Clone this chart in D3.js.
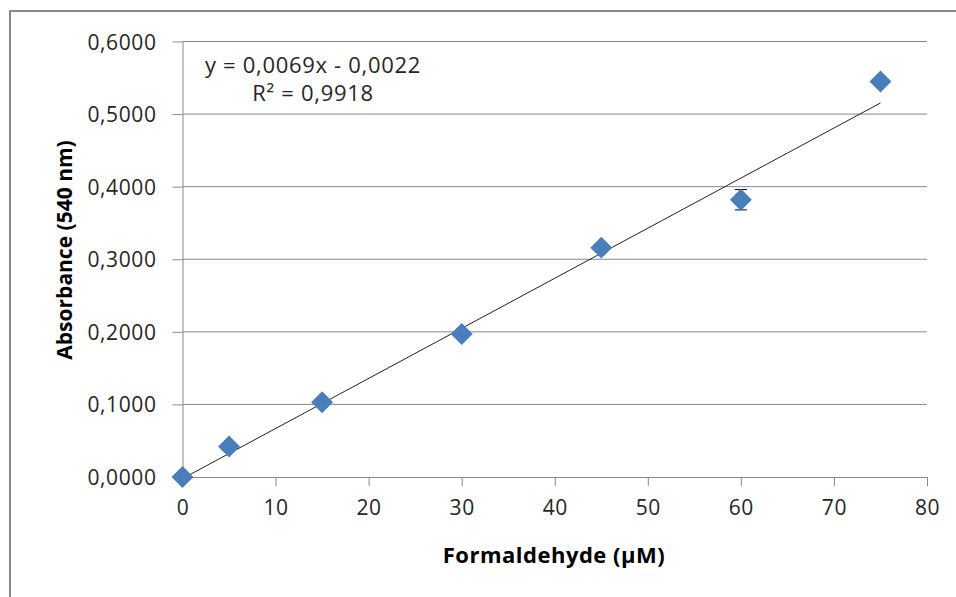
<!DOCTYPE html>
<html>
<head>
<meta charset="utf-8">
<script src="https://cdn.jsdelivr.net/npm/d3@7"></script>
<style>
  body { margin: 0; background: #fff; }
  text { font-family: "Open Sans", sans-serif; fill: #262626; }
  .tick text { font-size: 21px; letter-spacing: 0.6px; }
  .eq { font-size: 22px; letter-spacing: 0.7px; }
  .title { font-weight: bold; fill: #000; }
</style>
</head>
<body>
<script>
// data
var conc = [0, 5, 15, 30, 45, 60, 75];
var absorb = [0.000, 0.042, 0.103, 0.197, 0.316, 0.382, 0.545];
var errs = [0, 0, 0, 0, 0, 0.014, 0];
var xTicks = [0, 10, 20, 30, 40, 50, 60, 70, 80];
var yTicks = [0, 0.1, 0.2, 0.3, 0.4, 0.5, 0.6];
var slope = 0.0069, intercept = -0.0022;
var eqLines = ["y = 0,0069x - 0,0022", "R² = 0,9918"];

var width = 956, height = 597;
var margin = {top: 41.5, right: 29, bottom: 120, left: 182.5};

var svg = d3.select("body").append("svg")
    .attr("width", width).attr("height", height);

// outer frame (runs off the right and bottom)
svg.append("rect").attr("x", 10).attr("y", 11)
  .attr("width", 1000).attr("height", 700)
  .attr("fill", "none").attr("stroke", "#898989").attr("stroke-width", 2);

var x = d3.scaleLinear().domain([0, 80]).range([margin.left, width - margin.right]);
var y = d3.scaleLinear().domain([0, 0.6]).range([477, margin.top]);

var fmtY = function(d){ return d3.format(".4f")(d).replace(".", ","); };

// gridlines
svg.append("g").selectAll("line").data(yTicks.slice(1)).join("line")
  .attr("x1", x(0)).attr("x2", x(80))
  .attr("y1", d => y(d)).attr("y2", d => y(d))
  .attr("stroke", "#898989").attr("stroke-width", 1);

// y axis
var gy = svg.append("g").attr("transform", "translate(" + x(0) + ",0)")
  .call(d3.axisLeft(y).tickValues(yTicks).tickFormat(fmtY).tickSize(10).tickSizeOuter(0).tickPadding(16));
// x axis
var gx = svg.append("g").attr("transform", "translate(0," + y(0) + ")")
  .call(d3.axisBottom(x).tickValues(xTicks).tickSize(9).tickSizeOuter(0).tickPadding(13));

[gx, gy].forEach(function(g){
  g.select(".domain").attr("stroke", "#898989");
  g.selectAll(".tick line").attr("stroke", "#898989");
  g.selectAll(".tick text").attr("fill", "#262626").attr("font-family", null).attr("font-size", null);
});
gy.selectAll(".tick text").attr("dy", "0.36em");
gx.selectAll(".tick text").attr("dy", "0.76em");

// trendline
svg.append("line")
  .attr("x1", x(0)).attr("y1", y(intercept))
  .attr("x2", x(75)).attr("y2", y(slope * 75 + intercept))
  .attr("stroke", "#222").attr("stroke-width", 1);

// error bars
var eb = svg.append("g").attr("stroke", "#000").attr("stroke-width", 1);
conc.forEach(function(c, i){
  if (!errs[i]) return;
  var cx = x(c), lo = y(absorb[i] - errs[i]), hi = y(absorb[i] + errs[i]);
  eb.append("line").attr("x1", cx).attr("x2", cx).attr("y1", lo).attr("y2", hi);
  eb.append("line").attr("x1", cx - 6).attr("x2", cx + 6).attr("y1", lo).attr("y2", lo);
  eb.append("line").attr("x1", cx - 6).attr("x2", cx + 6).attr("y1", hi).attr("y2", hi);
});

// diamond markers
var sym = d3.symbol().type(d3.symbolSquare).size(240);
svg.append("g").selectAll("path").data(conc).join("path")
  .attr("d", sym)
  .attr("transform", (d, i) => "translate(" + x(d) + "," + y(absorb[i]) + ") rotate(45)")
  .attr("fill", "#4a7ebb");

// equation label
svg.append("g").selectAll("text").data(eqLines).join("text")
  .attr("class", "eq")
  .attr("x", 313).attr("y", (d, i) => 73 + i * 28)
  .attr("text-anchor", "middle")
  .text(d => d);

// axis titles
svg.append("text").attr("class", "title")
  .attr("x", 554).attr("y", 563).attr("text-anchor", "middle")
  .attr("font-size", 22).attr("letter-spacing", 0.5)
  .text("Formaldehyde (µM)");
svg.append("text").attr("class", "title")
  .attr("transform", "translate(72,250) rotate(-90)").attr("text-anchor", "middle")
  .attr("font-size", 21)
  .text("Absorbance (540 nm)");
</script>
</body>
</html>
